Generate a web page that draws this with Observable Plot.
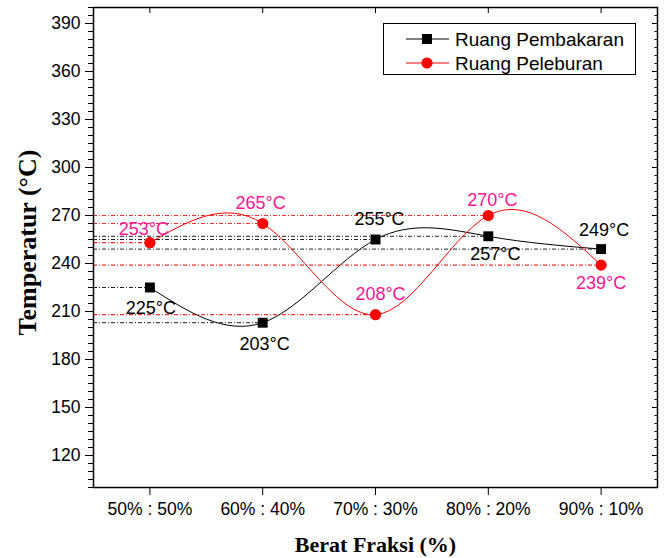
<!DOCTYPE html>
<html>
<head>
<meta charset="utf-8">
<script src="https://cdn.jsdelivr.net/npm/d3@7"></script>
<script src="https://cdn.jsdelivr.net/npm/@observablehq/plot@0.6"></script>
<style>
  html, body { margin: 0; padding: 0; background: #fff; }
  #wrap { position: relative; width: 665px; height: 558px; font-family: "Liberation Sans", Arial, sans-serif; }
  #legend { position: absolute; left: 383px; top: 23px; }
</style>
</head>
<body>
<div id="wrap"></div>
<script>
// ---- data ----
const categories = ["50% : 50%", "60% : 40%", "70% : 30%", "80% : 20%", "90% : 10%"];
const pembakaran = [225, 203, 255, 257, 249];   // Ruang Pembakaran (black squares)
const peleburan  = [253, 265, 208, 270, 239];   // Ruang Peleburan (red circles)
const yTicks = [120, 150, 180, 210, 240, 270, 300, 330, 360, 390];
const seriesNames = ["Ruang Pembakaran", "Ruang Peleburan"];

const xDomain = [0.5, categories.length + 0.5];
const yDomain = [100, 400];
const minorY = d3.range(yDomain[0], yDomain[1] + 0.001, 5);

const black = pembakaran.map((v, i) => ({x: i + 1, v, i}));
const red = peleburan.map((v, i) => ({x: i + 1, v, i}));

const RED = "#ff0000";
const PINK = "#ff1493";
const fmt = d => `${d.v}°C`;

const labelFont = {fontSize: 18, fontFamily: "Liberation Sans, Arial, sans-serif"};

function lbl(data, idx, dx, dy, fill) {
  return Plot.text(data, {filter: d => idx.includes(d.i), x: "x", y: "v", text: fmt, dx, dy, fill, ...labelFont});
}

const chart = Plot.plot({
  width: 665,
  height: 558,
  marginLeft: 93,
  marginRight: 8,
  marginTop: 7,
  marginBottom: 71,
  style: {fontFamily: "Liberation Sans, Arial, sans-serif", background: "#fff", color: "#000"},
  x: {domain: xDomain},
  y: {domain: yDomain},
  marks: [
    // reference dash-dot lines
    Plot.ruleY(black, {y: "v", x1: () => xDomain[0], x2: "x", stroke: "#222", strokeWidth: 1, strokeDasharray: "4,2,1,2"}),
    Plot.ruleY(red, {y: "v", x1: () => xDomain[0], x2: "x", stroke: "#ff3030", strokeWidth: 1.2, strokeDasharray: "4,2,1,2"}),
    // axes
    Plot.axisY(minorY, {anchor: "left", tickSize: 5, fill: "none", label: null}),
    Plot.axisY(yTicks, {anchor: "left", tickSize: 8, tickPadding: 5, fontSize: 17.5, label: null}),
    Plot.axisY(minorY, {anchor: "right", tickSize: -3.5, fill: "none", label: null}),
    Plot.axisY(yTicks, {anchor: "right", tickSize: -6, fill: "none", label: null}),
    Plot.axisX(d3.range(1, categories.length + 1), {anchor: "bottom", tickSize: 8, tickPadding: 7, fontSize: 17.5, tickFormat: d => categories[d - 1], label: null}),
    Plot.axisX(d3.range(1, categories.length + 1), {anchor: "top", tickSize: -5, fill: "none", label: null}),
    Plot.frame({stroke: "#000", strokeWidth: 1.5}),
    // curves
    Plot.line(black, {x: "x", y: "v", curve: "natural", stroke: "#000", strokeWidth: 1}),
    Plot.line(red, {x: "x", y: "v", curve: "natural", stroke: RED, strokeWidth: 1}),
    Plot.dot(black, {x: "x", y: "v", symbol: "square", r: 5.6, fill: "#000"}),
    Plot.dot(red, {x: "x", y: "v", symbol: "circle", r: 5.6, fill: RED}),
    // data labels
    lbl(black, [0], 1, 21, "#000"),
    lbl(black, [1], 2, 22, "#000"),
    lbl(black, [2], 4, -20, "#000"),
    lbl(black, [3], 7, 18, "#000"),
    lbl(black, [4], 3, -19, "#000"),
    lbl(red, [0], -6, -13, PINK),
    lbl(red, [1], -2, -20, PINK),
    lbl(red, [2], 5, -20, PINK),
    lbl(red, [3], 4, -15, PINK),
    lbl(red, [4], 0, 18, PINK),
    // axis titles
    Plot.text(["Temperatur (°C)"], {frameAnchor: "left", textAnchor: "middle", dx: -66, dy: -5, rotate: -90, fontSize: 26, fontWeight: "bold", fontFamily: "Liberation Serif, Times New Roman, serif", fill: "#000"}),
    Plot.text(["Berat Fraksi (%)"], {frameAnchor: "bottom", textAnchor: "middle", dy: 64, fontSize: 22, fontWeight: "bold", fontFamily: "Liberation Serif, Times New Roman, serif", fill: "#000"})
  ]
});

const wrap = document.getElementById("wrap");
wrap.appendChild(chart);

// legend
const lg = d3.select(wrap).append("svg").attr("id", "legend").attr("width", 254).attr("height", 53);
lg.append("rect").attr("x", 0.5).attr("y", 0.5).attr("width", 252).attr("height", 51).attr("fill", "#fff").attr("stroke", "#000").attr("stroke-width", 1);
const items = [
  {name: seriesNames[0], color: "#000", sym: "square"},
  {name: seriesNames[1], color: RED, sym: "circle"}
];
items.forEach((it, k) => {
  const cy = 16 + k * 24;
  lg.append("line").attr("x1", 23).attr("x2", 66).attr("y1", cy).attr("y2", cy).attr("stroke", it.color).attr("stroke-width", 1);
  if (it.sym === "square") {
    lg.append("rect").attr("x", 44 - 5).attr("y", cy - 5).attr("width", 10).attr("height", 10).attr("fill", it.color);
  } else {
    lg.append("circle").attr("cx", 44).attr("cy", cy).attr("r", 5.6).attr("fill", it.color);
  }
  lg.append("text").attr("x", 72).attr("y", cy).attr("dy", "0.35em").attr("font-size", 19)
    .attr("font-family", "Liberation Sans, Arial, sans-serif").attr("fill", "#000").text(it.name);
});
</script>
</body>
</html>
